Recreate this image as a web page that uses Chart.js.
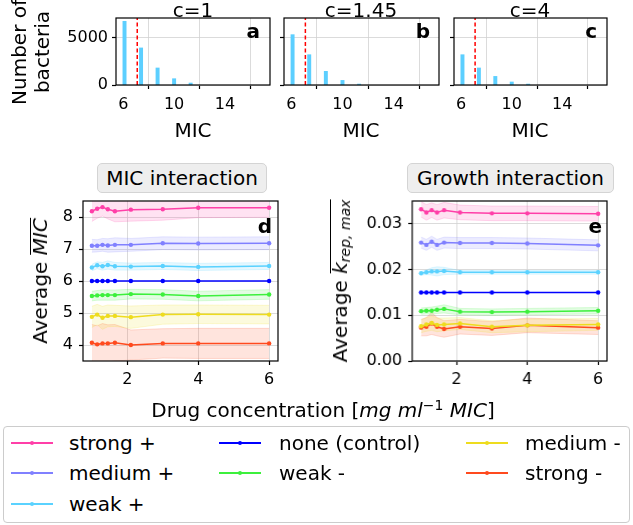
<!DOCTYPE html>
<html>
<head>
<meta charset="utf-8">
<script src="https://cdn.jsdelivr.net/npm/chart.js@4.4.0/dist/chart.umd.min.js"></script>
<style>
  body { margin: 0; background: #fff; font-family: "DejaVu Sans", sans-serif; color: #000; }
  #fig { position: relative; width: 633px; height: 525px; overflow: hidden; }
  canvas { position: absolute; }
  .t { position: absolute; white-space: nowrap; font-size: 20px; line-height: 24px; z-index: 2; }
  .mid { transform: translateX(-50%); }
  .rot { transform: translate(-50%, -50%) rotate(-90deg); text-align: center; }
  .letter { position: absolute; font-weight: bold; font-size: 20px; line-height: 20px; z-index: 2; transform: translateX(-100%); }
  .box { position: absolute; box-sizing: border-box; height: 30px; background: #eeeeee; border: 1px solid #d4d4d4;
         border-radius: 5px; font-size: 20px; line-height: 28px; text-align: center; }
  .ov { display: inline-block; border-top: 1.3px solid #000; line-height: 19px; }
  #legend { position: absolute; left: 3px; top: 426px; width: 627px; height: 97px; box-sizing: border-box;
            border: 1px solid #cccccc; border-radius: 4px; }
  .lline { position: absolute; height: 1.6px; width: 42px; }
  .ldot { position: absolute; width: 4px; height: 4px; border-radius: 2px; left: 19px; top: -1.2px; }
</style>
</head>
<body>
<div id="fig">
  <div class="t mid" style="left:193px; top:-2.5px">c=1</div>
  <div class="t mid" style="left:361px; top:-2.5px">c=1.45</div>
  <div class="t mid" style="left:530px; top:-2.5px">c=4</div>
  <div class="t mid" style="left:193px; top:118px">MIC</div>
  <div class="t mid" style="left:361px; top:118px">MIC</div>
  <div class="t mid" style="left:530px; top:118px">MIC</div>
  <div class="t rot" style="left:31px; top:51.5px; line-height:23px">Number of<br>bacteria</div>

  <div class="box" style="left:97px; top:163px; width:170px">MIC interaction</div>
  <div class="box" style="left:407px; top:163px; width:207px">Growth interaction</div>
  <div class="t rot" style="left:39.5px; top:281px">Average <span class="ov"><i>MIC</i></span></div>
  <div class="t rot" style="left:340px; top:281px">Average <span class="ov"><i>k</i><sub style="font-size:14px; line-height:0; vertical-align:-3px"><i>rep, max</i></sub></span></div>
  <div class="t mid" style="left:323px; top:397.5px">Drug concentration [<i>mg ml</i><sup style="font-size:14px; line-height:0; vertical-align:7px">−1</sup> <i>MIC</i>]</div>

  <div id="legend"></div>
</div>

<script>
// ---- histograms (panels a-c) ----
const micBins = [6.1, 7.4, 8.7, 10.0, 11.3];
const countsC1 = [6770, 3940, 1810, 670, 210];
const countsC145 = [5350, 3220, 1450, 490, 100];
const countsC4 = [3220, 1810, 915, 320, 100];
const meanMic = 7.1;               // red dashed line
const histXRange = [5.43, 17.54];
const histYRange = [0, 7120];
const histXTicks = [6, 10, 14];
const histYTicks = [0, 5000];

// ---- interaction curves (panels d, e) ----
const conc = [1, 1.15, 1.3, 1.45, 1.65, 2.1, 3, 4, 6];
const groups = ["strong +", "medium +", "weak +", "none (control)", "weak -", "medium -", "strong -"];
const groupColors = ["#ff3fa8", "#8080ff", "#5ad2ff", "#0000ff", "#3cf03c", "#eedc1e", "#ff4a1e"];

// average MIC, one row per group
const micMean = [
  [8.18, 8.26, 8.31, 8.24, 8.18, 8.23, 8.24, 8.29, 8.29],
  [7.10, 7.10, 7.13, 7.11, 7.13, 7.13, 7.18, 7.17, 7.18],
  [6.42, 6.49, 6.46, 6.50, 6.46, 6.45, 6.47, 6.44, 6.47],
  [6.00, 6.00, 6.00, 6.00, 6.00, 6.00, 6.00, 6.00, 6.00],
  [5.53, 5.55, 5.56, 5.56, 5.56, 5.59, 5.58, 5.53, 5.58],
  [4.88, 4.95, 4.85, 4.91, 4.91, 4.87, 4.95, 4.96, 4.95],
  [4.07, 4.02, 4.05, 4.05, 4.07, 4.00, 4.05, 4.05, 4.05]
];
const micSpread = [
  [0.32, 0.30, 0.28, 0.30, 0.33, 0.36, 0.34, 0.31, 0.30],
  [0.20, 0.19, 0.20, 0.21, 0.22, 0.20, 0.20, 0.20, 0.20],
  [0.10, 0.11, 0.12, 0.13, 0.12, 0.11, 0.11, 0.11, 0.11],
  [0, 0, 0, 0, 0, 0, 0, 0, 0],
  [0.15, 0.15, 0.16, 0.16, 0.16, 0.15, 0.15, 0.15, 0.15],
  [0.33, 0.32, 0.36, 0.34, 0.33, 0.35, 0.30, 0.29, 0.29],
  [0.57, 0.58, 0.62, 0.58, 0.57, 0.47, 0.46, 0.47, 0.47]
];
const micRange = [3.5, 8.5];
const micTicks = [4, 5, 6, 7, 8];

// average max replication rate, one row per group
const kMean = [
  [0.0332, 0.0325, 0.0330, 0.0325, 0.0330, 0.0325, 0.0323, 0.0323, 0.0322],
  [0.0259, 0.0254, 0.0261, 0.0254, 0.0259, 0.0258, 0.0258, 0.0257, 0.0253],
  [0.0192, 0.0194, 0.0196, 0.0196, 0.0197, 0.0194, 0.0194, 0.0194, 0.0194],
  [0.0150, 0.0150, 0.0150, 0.0150, 0.0150, 0.0150, 0.0150, 0.0150, 0.0150],
  [0.0109, 0.0110, 0.0110, 0.0112, 0.0114, 0.0108, 0.0107, 0.0108, 0.0110],
  [0.0076, 0.0080, 0.0083, 0.0079, 0.0080, 0.0082, 0.0075, 0.0078, 0.0080],
  [0.0073, 0.0075, 0.0082, 0.0075, 0.0070, 0.0075, 0.0071, 0.0078, 0.0073]
];
const kSpread = [
  [0.0017, 0.0017, 0.0016, 0.0017, 0.0017, 0.0016, 0.0016, 0.0016, 0.0016],
  [0.0012, 0.0012, 0.0012, 0.0012, 0.0012, 0.0012, 0.0012, 0.0012, 0.0012],
  [0.0004, 0.0005, 0.0008, 0.0010, 0.0008, 0.0004, 0.0004, 0.0004, 0.0004],
  [0, 0, 0, 0, 0, 0, 0, 0, 0],
  [0.0007, 0.0007, 0.0008, 0.0008, 0.0009, 0.0007, 0.0007, 0.0007, 0.0007],
  [0.0014, 0.0015, 0.0016, 0.0015, 0.0014, 0.0013, 0.0013, 0.0014, 0.0013],
  [0.0018, 0.0020, 0.0024, 0.0020, 0.0018, 0.0016, 0.0015, 0.0016, 0.0015]
];
const kRange = [0, 0.035];
const kTicks = [0, 0.01, 0.02, 0.03];
const concRange = [0.75, 6.25];
const concTicks = [2, 4, 6];

Chart.defaults.font.family = "DejaVu Sans";
Chart.defaults.color = "#000";

const fig = document.getElementById("fig");
const AXW = 60, AXH = 40, PADR = 12;

function rgba(hex, a) {
  const n = parseInt(hex.slice(1), 16);
  return `rgba(${n >> 16},${(n >> 8) & 255},${n & 255},${a})`;
}

// canvas sized so the plot area lands on {l, t, r, b}
function makeCanvas(area, padTop) {
  const c = document.createElement("canvas");
  const w = area.r - area.l + AXW + PADR, h = area.b - area.t + padTop + AXH;
  c.width = w; c.height = h;
  c.style.left = (area.l - AXW) + "px";
  c.style.top = (area.t - padTop) + "px";
  c.style.width = w + "px"; c.style.height = h + "px";
  fig.insertBefore(c, fig.firstChild);
  return c;
}

const framePlugin = {
  id: "frame",
  afterDraw(chart) {
    const { ctx, chartArea: a } = chart;
    ctx.save();
    ctx.strokeStyle = "#000";
    ctx.lineWidth = 1.2;
    ctx.strokeRect(a.left, a.top, a.right - a.left, a.bottom - a.top);
    ctx.restore();
  }
};

function axis(range, ticks, o) {
  return {
    type: "linear", min: range[0], max: range[1], offset: false,
    afterBuildTicks: s => { s.ticks = ticks.map(v => ({ value: v })); },
    afterFit: s => {
      if (s.isHorizontal()) s.height = AXH; else s.width = AXW;
      s.paddingTop = s.paddingBottom = s.paddingLeft = s.paddingRight = 0;
    },
    grid: { color: "#d2d2d2", lineWidth: 0.8, tickColor: "#000", tickWidth: 1.2, tickLength: 4 },
    border: { display: false },
    ticks: {
      display: o.labels !== false, font: { size: 16 }, padding: o.pad, color: "#000",
      maxRotation: 0, autoSkip: false, callback: o.fmt || (v => String(v))
    }
  };
}

function histChart(area, counts, showY) {
  new Chart(makeCanvas(area, area.t), {
    type: "bar",
    data: {
      datasets: [
        { type: "line", data: [{ x: meanMic, y: histYRange[0] }, { x: meanMic, y: histYRange[1] }],
          borderColor: "#ff0000", borderWidth: 1.5, borderDash: [4, 2.5], pointRadius: 0, order: 0 },
        { type: "bar", data: micBins.map((x, i) => ({ x, y: counts[i] })),
          backgroundColor: "#5ccfff", barThickness: 3.3, order: 1 }
      ]
    },
    options: {
      responsive: false, animation: false,
      layout: { padding: { top: area.t, right: PADR, left: 0, bottom: 0 } },
      plugins: { legend: { display: false }, tooltip: { enabled: false } },
      scales: {
        x: axis(histXRange, histXTicks, { pad: 6 }),
        y: axis(histYRange, histYTicks, { pad: 4, labels: showY })
      }
    },
    plugins: [framePlugin]
  });
}

function lineChart(area, means, spreads, yRange, yTicks, yFmt) {
  const datasets = [];
  groups.forEach((g, i) => {
    const col = groupColors[i];
    if (spreads[i].some(v => v > 0)) {
      datasets.push({ data: conc.map((x, j) => ({ x, y: means[i][j] - spreads[i][j] })),
        borderColor: rgba(col, 0.18), borderWidth: 1, pointRadius: 0, fill: false, order: 1 });
      datasets.push({ data: conc.map((x, j) => ({ x, y: means[i][j] + spreads[i][j] })),
        borderColor: rgba(col, 0.18), borderWidth: 1, pointRadius: 0, fill: "-1",
        backgroundColor: rgba(col, 0.15), order: 1 });
    }
    datasets.push({ label: g, data: conc.map((x, j) => ({ x, y: means[i][j] })),
      borderColor: col, backgroundColor: col, borderWidth: 1.5, pointRadius: 2.2,
      pointBorderWidth: 0, tension: 0, order: 0 });
  });
  new Chart(makeCanvas(area, 20), {
    type: "line",
    data: { datasets },
    options: {
      responsive: false, animation: false,
      layout: { padding: { top: 20, right: PADR, left: 0, bottom: 0 } },
      plugins: { legend: { display: false }, tooltip: { enabled: false } },
      scales: {
        x: axis(concRange, concTicks, { pad: 5 }),
        y: axis(yRange, yTicks, { pad: 6, fmt: yFmt })
      }
    },
    plugins: [framePlugin]
  });
}

histChart({ l: 116, r: 270, t: 18, b: 85.3 }, countsC1, true);
histChart({ l: 284, r: 439, t: 18, b: 85.3 }, countsC145, false);
histChart({ l: 454, r: 607, t: 18, b: 85.3 }, countsC4, false);
lineChart({ l: 82.7, r: 277.7, t: 200.7, b: 361 }, micMean, micSpread, micRange, micTicks);
lineChart({ l: 412.3, r: 607.3, t: 200.7, b: 361 }, kMean, kSpread, kRange, kTicks, v => v.toFixed(2));

// panel letters
[["a", 260, 20.5], ["b", 430, 20.5], ["c", 597, 20.5], ["d", 272, 216], ["e", 602, 216]].forEach(([s, x, y]) => {
  const d = document.createElement("div");
  d.className = "letter"; d.textContent = s;
  d.style.left = x + "px"; d.style.top = y + "px";
  fig.appendChild(d);
});

// legend, filled column by column like the original (3, 2, 2)
const legend = document.getElementById("legend");
const colStart = [0, 3, 5];
const lineLeft = [7, 215, 462], textLeft = [65, 275, 521];
const rowY = [16, 46, 77];
groups.forEach((g, i) => {
  const col = i < 3 ? 0 : (i < 5 ? 1 : 2);
  const row = i - colStart[col];
  const ln = document.createElement("div");
  ln.className = "lline";
  ln.style.background = groupColors[i];
  ln.style.left = lineLeft[col] + "px"; ln.style.top = (rowY[row] - 0.8) + "px";
  const dot = document.createElement("div");
  dot.className = "ldot"; dot.style.background = groupColors[i];
  ln.appendChild(dot);
  const tx = document.createElement("div");
  tx.className = "t"; tx.textContent = g;
  tx.style.left = textLeft[col] + "px"; tx.style.top = (rowY[row] - 12) + "px";
  legend.appendChild(ln); legend.appendChild(tx);
});
</script>
</body>
</html>
